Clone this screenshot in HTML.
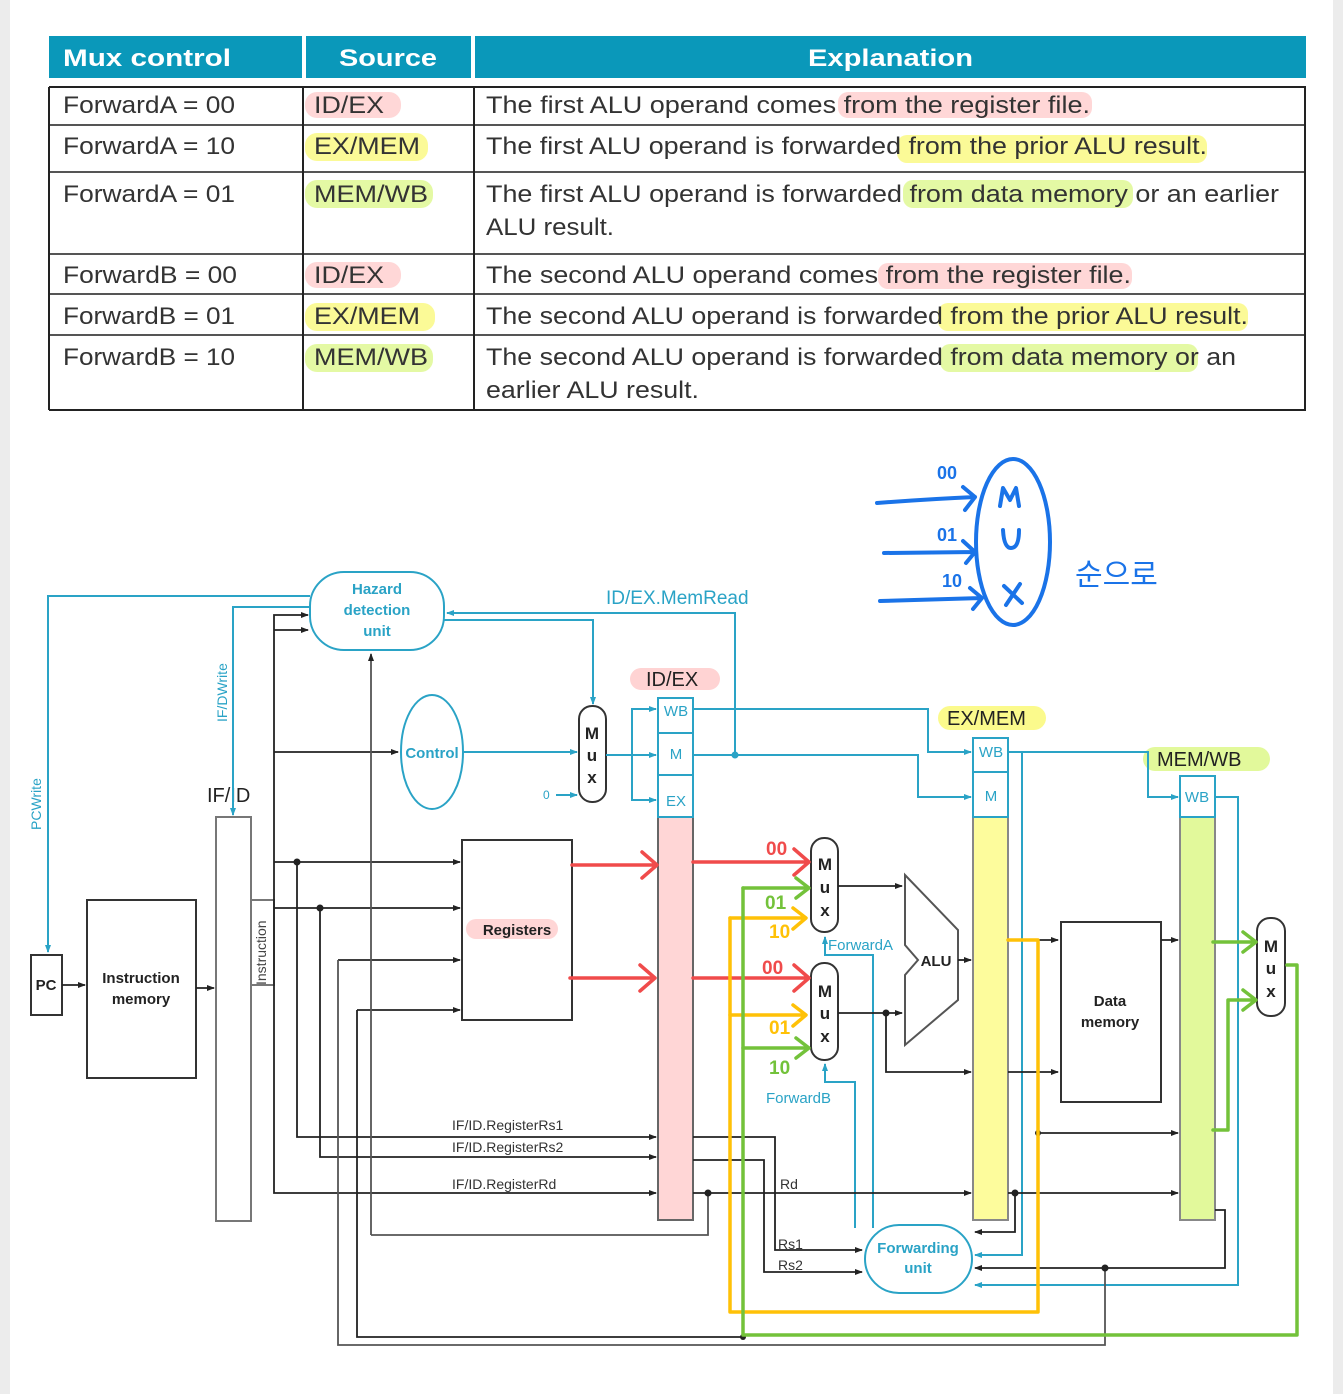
<!DOCTYPE html>
<html><head><meta charset="utf-8"><style>
html,body{margin:0;padding:0;background:#fff;}
svg{display:block;}
.t{font-family:"Liberation Sans","Noto Sans CJK KR",sans-serif;}
</style></head><body>
<svg width="1343" height="1394" viewBox="0 0 1343 1394" xmlns="http://www.w3.org/2000/svg" class="t">
<defs>
<marker id="ab" markerWidth="8" markerHeight="8" refX="7" refY="4" orient="auto" markerUnits="userSpaceOnUse"><path d="M0,1 L8,4 L0,7 Z" fill="#222"/></marker>
<marker id="au" markerWidth="8" markerHeight="8" refX="7" refY="4" orient="auto" markerUnits="userSpaceOnUse"><path d="M0,1 L8,4 L0,7 Z" fill="#2aa3c6"/></marker>
</defs>
<rect x="0" y="0" width="10" height="1394" fill="#ececec"/>
<rect x="1333" y="0" width="10" height="1394" fill="#ececec"/>

<!-- TABLE -->
<rect x="49" y="36" width="253" height="42" fill="#0a98ba"/>
<rect x="306" y="36" width="165" height="42" fill="#0a98ba"/>
<rect x="475" y="36" width="831" height="42" fill="#0a98ba"/>
<g fill="#fff" font-weight="bold" font-size="24">
<text x="63" y="66" textLength="168" lengthAdjust="spacingAndGlyphs">Mux control</text>
<text x="339" y="66" textLength="98" lengthAdjust="spacingAndGlyphs">Source</text>
<text x="808" y="66" textLength="165" lengthAdjust="spacingAndGlyphs">Explanation</text>
</g>
<!-- highlights -->
<g opacity="0.9">
<rect x="305" y="92" width="96" height="26" rx="12" fill="#ffd3d3"/>
<rect x="838" y="92" width="254" height="26" rx="10" fill="#ffd3d3"/>
<rect x="305" y="133" width="123" height="28" rx="12" fill="#fbfa8c"/>
<rect x="897" y="135" width="310" height="28" rx="10" fill="#fbfa8c"/>
<rect x="305" y="180" width="128" height="28" rx="12" fill="#e2f99b"/>
<rect x="903" y="180" width="230" height="28" rx="10" fill="#e2f99b"/>
<rect x="305" y="262" width="96" height="26" rx="12" fill="#ffd3d3"/>
<rect x="878" y="263" width="254" height="26" rx="10" fill="#ffd3d3"/>
<rect x="305" y="303" width="130" height="28" rx="12" fill="#fbfa8c"/>
<rect x="938" y="303" width="310" height="28" rx="10" fill="#fbfa8c"/>
<rect x="305" y="344" width="128" height="28" rx="12" fill="#e2f99b"/>
<rect x="940" y="344" width="258" height="28" rx="10" fill="#e2f99b"/>
</g>
<g stroke="#222" stroke-width="2" fill="none">
<line x1="49" y1="87" x2="1306" y2="87"/>
<line x1="49" y1="125" x2="1306" y2="125" stroke="#555"/>
<line x1="49" y1="172" x2="1306" y2="172" stroke="#555"/>
<line x1="49" y1="254" x2="1306" y2="254" stroke="#555"/>
<line x1="49" y1="294" x2="1306" y2="294" stroke="#555"/>
<line x1="49" y1="335" x2="1306" y2="335" stroke="#555"/>
<line x1="49" y1="410" x2="1306" y2="410"/>
<line x1="49" y1="87" x2="49" y2="410"/>
<line x1="303" y1="87" x2="303" y2="410"/>
<line x1="474" y1="87" x2="474" y2="410"/>
<line x1="1305" y1="87" x2="1305" y2="410"/>
</g>
<g fill="#333" font-size="24">
<text x="63" y="113" textLength="172" lengthAdjust="spacingAndGlyphs">ForwardA = 00</text>
<text x="63" y="154" textLength="172" lengthAdjust="spacingAndGlyphs">ForwardA = 10</text>
<text x="63" y="202" textLength="172" lengthAdjust="spacingAndGlyphs">ForwardA = 01</text>
<text x="63" y="283" textLength="174" lengthAdjust="spacingAndGlyphs">ForwardB = 00</text>
<text x="63" y="324" textLength="172" lengthAdjust="spacingAndGlyphs">ForwardB = 01</text>
<text x="63" y="365" textLength="172" lengthAdjust="spacingAndGlyphs">ForwardB = 10</text>
<text x="314" y="113" textLength="70" lengthAdjust="spacingAndGlyphs">ID/EX</text>
<text x="314" y="154" textLength="106" lengthAdjust="spacingAndGlyphs">EX/MEM</text>
<text x="314" y="202" textLength="114" lengthAdjust="spacingAndGlyphs">MEM/WB</text>
<text x="314" y="283" textLength="70" lengthAdjust="spacingAndGlyphs">ID/EX</text>
<text x="314" y="324" textLength="106" lengthAdjust="spacingAndGlyphs">EX/MEM</text>
<text x="314" y="365" textLength="114" lengthAdjust="spacingAndGlyphs">MEM/WB</text>
<text x="486" y="113" textLength="604" lengthAdjust="spacingAndGlyphs">The first ALU operand comes from the register file.</text>
<text x="486" y="154" textLength="721" lengthAdjust="spacingAndGlyphs">The first ALU operand is forwarded from the prior ALU result.</text>
<text x="486" y="202" textLength="793" lengthAdjust="spacingAndGlyphs">The first ALU operand is forwarded from data memory or an earlier</text>
<text x="486" y="235" textLength="128" lengthAdjust="spacingAndGlyphs">ALU result.</text>
<text x="486" y="283" textLength="645" lengthAdjust="spacingAndGlyphs">The second ALU operand comes from the register file.</text>
<text x="486" y="324" textLength="762" lengthAdjust="spacingAndGlyphs">The second ALU operand is forwarded from the prior ALU result.</text>
<text x="486" y="365" textLength="750" lengthAdjust="spacingAndGlyphs">The second ALU operand is forwarded from data memory or an</text>
<text x="486" y="398" textLength="213" lengthAdjust="spacingAndGlyphs">earlier ALU result.</text>
</g>

<!-- handwritten blue mux -->
<g stroke="#1a73e8" stroke-width="4" fill="none" stroke-linecap="round" stroke-linejoin="round">
<ellipse cx="1013" cy="542" rx="37" ry="83"/>
<path d="M877,503 Q930,499 975,497 M963,487 L975,497 L965,510"/>
<path d="M884,553 L975,552 M963,541 L975,552 L966,563"/>
<path d="M880,601 L982,598 M970,588 L982,598 L973,609"/>
<path d="M1000,506 L1003,488 L1010,500 L1016,488 L1019,506"/>
<path d="M1003,530 Q1004,548 1011,548 Q1019,548 1019,530"/>
<path d="M1004,586 L1022,603 M1020,584 L1006,605"/>
</g>
<g fill="#1a73e8" font-size="18" font-weight="bold">
<text x="937" y="479">00</text>
<text x="937" y="541">01</text>
<text x="942" y="587">10</text>
<text x="1075" y="585" font-size="30" font-weight="normal">순으로</text>
</g>

<!-- pipeline shaded columns -->
<rect x="658" y="817" width="35" height="403" fill="#ffd6d6"/>
<rect x="973" y="817" width="35" height="403" fill="#fdfc9c"/>
<rect x="1180" y="817" width="35" height="403" fill="#e2f99b"/>
<!-- labels -->
<rect x="630" y="668" width="90" height="22" rx="11" fill="#ffd3d3"/>
<text x="646" y="686" font-size="20" fill="#222">ID/EX</text>
<rect x="938" y="706" width="108" height="24" rx="12" fill="#fbfa8c"/>
<text x="947" y="725" font-size="20" fill="#222">EX/MEM</text>
<rect x="1143" y="747" width="127" height="24" rx="12" fill="#e2f99b"/>
<text x="1157" y="766" font-size="20" fill="#222">MEM/WB</text>
<text x="207" y="802" font-size="20" fill="#222">IF/ID</text>

<!-- black boxes -->
<g stroke="#333" stroke-width="2" fill="none">
<rect x="31" y="955" width="31" height="60"/>
<rect x="87" y="900" width="109" height="178"/>
<rect x="216" y="817" width="35" height="404" stroke="#777"/>
<rect x="251" y="900" width="23" height="85" stroke="#777"/>
<rect x="462" y="840" width="110" height="180"/>
<rect x="1061" y="922" width="100" height="180"/>
<rect x="658" y="817" width="35" height="403" stroke="#666"/>
<rect x="973" y="817" width="35" height="403" stroke="#888"/>
<rect x="1180" y="817" width="35" height="403" stroke="#888"/>
<rect x="811" y="838" width="27" height="94" rx="13"/>
<rect x="811" y="963" width="27" height="97" rx="13"/>
<rect x="579" y="706" width="27" height="96" rx="13"/>
<rect x="1257" y="918" width="28" height="98" rx="13"/>
<polygon points="905,875 958,930 958,1000 905,1045 905,975 918,960 905,945" stroke="#555"/>
</g>
<g font-size="15" font-weight="bold" fill="#222" text-anchor="middle">
<text x="46" y="990">PC</text>
<text x="141" y="983">Instruction</text>
<text x="141" y="1004">memory</text>
<rect x="466" y="919" width="92" height="20" rx="10" fill="#ffd6d6"/>
<text x="517" y="935">Registers</text>
<text x="1110" y="1006">Data</text>
<text x="1110" y="1027">memory</text>
<text x="936" y="966">ALU</text>
<text x="592" y="739" font-size="17">M</text><text x="592" y="761" font-size="17">u</text><text x="592" y="783" font-size="17">x</text>
<text x="825" y="870" font-size="17">M</text><text x="825" y="893" font-size="17">u</text><text x="825" y="916" font-size="17">x</text>
<text x="825" y="997" font-size="17">M</text><text x="825" y="1019" font-size="17">u</text><text x="825" y="1042" font-size="17">x</text>
<text x="1271" y="952" font-size="17">M</text><text x="1271" y="974" font-size="17">u</text><text x="1271" y="997" font-size="17">x</text>
</g>
<text x="266" y="985" font-size="14" fill="#444" transform="rotate(-90 266 985)">Instruction</text>

<!-- blue components -->
<g stroke="#2aa3c6" stroke-width="2" fill="none">
<rect x="310" y="572" width="134" height="78" rx="34"/>
<ellipse cx="432" cy="752" rx="31" ry="57"/>
<rect x="865" y="1225" width="107" height="68" rx="34"/>
<rect x="658" y="698" width="35" height="119"/>
<line x1="658" y1="733" x2="693" y2="733"/><line x1="658" y1="775" x2="693" y2="775"/>
<rect x="973" y="738" width="35" height="79"/>
<line x1="973" y1="772" x2="1008" y2="772"/>
<rect x="1180" y="776" width="35" height="41"/>
</g>
<g fill="#2aa3c6" font-size="15">
<text x="676" y="716" text-anchor="middle">WB</text>
<text x="676" y="759" text-anchor="middle">M</text>
<text x="676" y="806" text-anchor="middle">EX</text>
<text x="991" y="757" text-anchor="middle">WB</text>
<text x="991" y="801" text-anchor="middle">M</text>
<text x="1197" y="802" text-anchor="middle">WB</text>
<text x="377" y="594" text-anchor="middle" font-weight="bold">Hazard</text>
<text x="377" y="615" text-anchor="middle" font-weight="bold">detection</text>
<text x="377" y="636" text-anchor="middle" font-weight="bold">unit</text>
<text x="432" y="758" text-anchor="middle" font-weight="bold">Control</text>
<text x="918" y="1253" text-anchor="middle" font-weight="bold">Forwarding</text>
<text x="918" y="1273" text-anchor="middle" font-weight="bold">unit</text>
<text x="606" y="604" font-size="19">ID/EX.MemRead</text>
<text x="828" y="950">ForwardA</text>
<text x="766" y="1103">ForwardB</text>
<text x="543" y="799" font-size="12">0</text>
<text x="41" y="830" font-size="14" transform="rotate(-90 41 830)">PCWrite</text>
<text x="227" y="722" font-size="14" transform="rotate(-90 227 722)">IF/DWrite</text>
</g>

<!-- blue wires -->
<g stroke="#2aa3c6" stroke-width="2" fill="none">
<path d="M310,596 H48 V952" marker-end="url(#au)"/>
<path d="M310,607 H233 V815" marker-end="url(#au)"/>
<path d="M444,620 H593 V704" marker-end="url(#au)"/>
<path d="M735,755 V613 H447" marker-end="url(#au)"/>
<path d="M463,752 H577" marker-end="url(#au)"/>
<path d="M556,795 H577" marker-end="url(#au)"/>
<path d="M606,755 H656" marker-end="url(#au)"/>
<path d="M632,755 V709 H656" marker-end="url(#au)"/>
<path d="M632,755 V800 H656" marker-end="url(#au)"/>
<path d="M693,709 H928 V752 H971" marker-end="url(#au)"/>
<path d="M693,755 H918 V797 H971" marker-end="url(#au)"/>
<path d="M1008,752 H1148 V797 H1178" marker-end="url(#au)"/>
<path d="M1022,752 V1255 H975" marker-end="url(#au)"/>
<path d="M1215,797 H1238 V1285 H975" marker-end="url(#au)"/>
<path d="M873,1228 V955 H825 V937" marker-end="url(#au)"/>
<path d="M855,1228 V1082 H825 V1064" marker-end="url(#au)"/>
</g>
<circle cx="735" cy="755" r="3.5" fill="#2aa3c6"/>

<!-- black wires -->
<g stroke="#222" stroke-width="1.8" fill="none">
<path d="M62,985 H85" marker-end="url(#ab)"/>
<path d="M196,988 H214" marker-end="url(#ab)"/>
<path d="M274,985 V615 H308" marker-end="url(#ab)"/>
<path d="M274,630 H308" marker-end="url(#ab)"/>
<path d="M274,752 H398" marker-end="url(#ab)"/>
<path d="M274,862 H460" marker-end="url(#ab)"/>
<path d="M274,908 H460" marker-end="url(#ab)"/>
<path d="M274,985 V1193 H656" marker-end="url(#ab)"/>
<path d="M297,862 V1137 H656" marker-end="url(#ab)"/>
<path d="M320,908 V1157 H656" marker-end="url(#ab)"/>
<path d="M338,960 H460" marker-end="url(#ab)"/>
<path d="M338,960 V1345 H1105 V1268" stroke="#555"/>
<path d="M357,1010 H460" marker-end="url(#ab)"/>
<path d="M357,1010 V1337 H743"/>
<path d="M371,1235 V654" stroke="#555" marker-end="url(#ab)"/>
<path d="M708,1193 V1235 H371" stroke="#555"/>
<path d="M693,1137 H775 V1250 H862" marker-end="url(#ab)"/>
<path d="M693,1160 H764 V1272 H862" marker-end="url(#ab)"/>
<path d="M693,1193 H971" marker-end="url(#ab)"/>
<path d="M1008,1193 H1178" marker-end="url(#ab)"/>
<path d="M1015,1193 V1232 H975" marker-end="url(#ab)"/>
<path d="M1215,1210 H1225 V1268 H975" marker-end="url(#ab)"/>
<path d="M838,886 H902" marker-end="url(#ab)"/>
<path d="M838,1013 H902" marker-end="url(#ab)"/>
<path d="M886,1013 V1072 H971" marker-end="url(#ab)"/>
<path d="M958,960 H971" marker-end="url(#ab)"/>
<path d="M1008,940 H1058" marker-end="url(#ab)"/>
<path d="M1008,1072 H1058" marker-end="url(#ab)"/>
<path d="M1038,1133 H1178" marker-end="url(#ab)"/>
<path d="M1161,940 H1178" marker-end="url(#ab)"/>
</g>
<g fill="#222">
<circle cx="297" cy="862" r="3.5"/><circle cx="320" cy="908" r="3.5"/>
<circle cx="708" cy="1193" r="3.5"/><circle cx="1015" cy="1193" r="3.5"/>
<circle cx="886" cy="1013" r="3.5"/><circle cx="1105" cy="1268" r="3.5"/>
<circle cx="743" cy="1337" r="3"/><circle cx="1038" cy="1133" r="3"/>
</g>
<g font-size="14" fill="#333">
<text x="452" y="1130">IF/ID.RegisterRs1</text>
<text x="452" y="1152">IF/ID.RegisterRs2</text>
<text x="452" y="1189">IF/ID.RegisterRd</text>
<text x="780" y="1189">Rd</text>
<text x="778" y="1249">Rs1</text>
<text x="778" y="1270">Rs2</text>
</g>

<!-- colored annotations -->
<g fill="none" stroke-width="3.5" stroke-linecap="round" stroke-linejoin="round">
<g stroke="#f04b4b">
<path d="M572,865 H656 M642,852 L657,865 L642,878"/>
<path d="M693,862 H808 M794,849 L809,862 L794,875"/>
<path d="M570,978 H655 M640,965 L655,978 L640,991"/>
<path d="M693,978 H808 M794,965 L809,978 L794,991"/>
</g>
<g stroke="#ffc107">
<path d="M730,918 H805 M793,908 L806,918 L793,929"/>
<path d="M730,1015 H805 M793,1005 L806,1015 L793,1026"/>
<path d="M730,918 V1312 H1038 V940 H1008"/>
</g>
<g stroke="#73c23a">
<path d="M743,888 H808 M796,878 L809,888 L796,898"/>
<path d="M743,1048 H808 M796,1038 L809,1048 L796,1058"/>
<path d="M743,888 V1335 H1297 V965 H1287"/>
<path d="M1213,942 H1255 M1243,932 L1256,942 L1243,952"/>
<path d="M1213,1130 H1228 V1000 H1255 M1243,990 L1256,1000 L1243,1010"/>
</g>
</g>
<g font-size="19" font-weight="bold">
<text x="766" y="855" fill="#f04b4b">00</text>
<text x="762" y="974" fill="#f04b4b">00</text>
<text x="765" y="909" fill="#73c23a">01</text>
<text x="769" y="1074" fill="#73c23a">10</text>
<text x="769" y="938" fill="#ffc107">10</text>
<text x="769" y="1034" fill="#ffc107">01</text>
</g>
</svg>
</body></html>
